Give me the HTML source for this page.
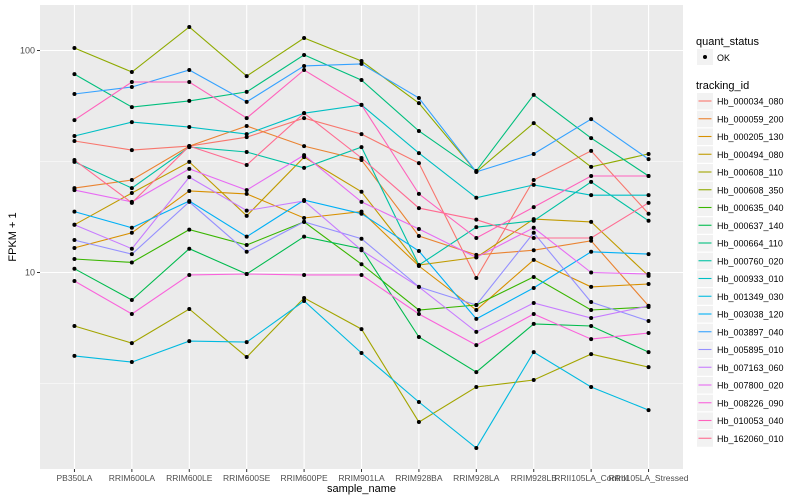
<!DOCTYPE html>
<html><head><meta charset="utf-8"><style>
body{margin:0;background:#fff;font-family:"Liberation Sans",sans-serif}
svg{display:block}
</style></head><body>
<svg id="chart" width="800" height="500" xmlns="http://www.w3.org/2000/svg"></svg>
<script>
const categories=["PB350LA","RRIM600LA","RRIM600LE","RRIM600SE","RRIM600PE","RRIM901LA","RRIM928BA","RRIM928LA","RRIM928LB","RRII105LA_Control","RRII105LA_Stressed"];
const seriesNames=["Hb_000034_080","Hb_000059_200","Hb_000205_130","Hb_000494_080","Hb_000608_110","Hb_000608_350","Hb_000635_040","Hb_000637_140","Hb_000664_110","Hb_000760_020","Hb_000933_010","Hb_001349_030","Hb_003038_120","Hb_003897_040","Hb_005895_010","Hb_007163_060","Hb_007800_020","Hb_008226_090","Hb_010053_040","Hb_162060_010"];
const seriesColors=["#F8766D","#EA8331","#D89000","#C09B00","#A3A500","#8FAA00","#39B600","#00BB4E","#00BF7D","#00C1A3","#00BFC4","#00BAE0","#00B0F6","#35A2FF","#9590FF","#C77CFF","#E76BF3","#FA62DB","#FF62BC","#FF6C91"];
const s000034_080=[39.1,35.6,37.1,40.7,49.6,42.0,31.1,9.45,26.1,35.3,18.4];
const s000059_200=[24.0,26.1,37.1,45.7,37.1,32.1,14.6,12.0,12.6,13.9,7.07];
const s000205_130=[12.9,15.1,23.3,22.6,17.6,18.8,10.7,6.78,11.4,8.61,8.88];
const s000494_080=[16.4,22.8,31.5,18.0,33.1,23.1,10.8,11.7,17.4,16.9,9.65];
const s000608_110=[5.74,4.81,6.85,4.16,7.68,5.56,2.12,3.05,3.28,4.29,3.75];
const s000608_350=[102.6,80.0,127.6,76.7,113.8,89.7,57.9,28.4,47.1,29.9,34.2];
const s000635_040=[11.5,11.1,15.6,13.3,16.9,10.9,6.78,7.14,9.55,6.78,6.99];
const s000637_140=[10.4,7.52,12.8,9.85,14.5,12.8,5.12,3.56,5.87,5.74,4.38];
const s000664_110=[78.3,55.6,59.3,65.1,95.5,73.6,43.4,28.7,63.1,40.3,27.2];
const s000760_020=[31.5,24.0,36.7,34.9,29.6,36.7,10.8,16.0,17.1,25.6,17.1];
const s000933_010=[41.2,47.6,45.2,42.0,52.2,56.9,34.5,21.7,24.8,22.3,22.3];
const s001349_030=[4.21,3.95,4.91,4.86,7.44,4.34,2.61,1.62,4.38,3.05,2.40];
const s003038_120=[18.8,15.9,21.0,14.5,21.2,18.4,12.5,6.18,8.52,12.4,12.1];
const s003897_040=[63.7,68.5,81.7,58.7,85.2,87.0,61.1,28.4,34.2,49.1,32.4];
const s005895_010=[14.0,12.1,20.8,12.4,16.9,14.2,8.61,7.14,15.1,7.36,6.05];
const s007163_060=[16.4,12.8,26.9,19.0,21.0,12.6,8.61,5.40,7.29,6.24,7.07];
const s007800_020=[23.5,20.8,29.3,23.5,33.8,20.8,15.7,11.7,15.9,10.0,9.85];
const s008226_090=[9.16,6.50,9.75,9.85,9.75,9.75,6.50,4.71,6.50,5.01,5.34];
const s010053_040=[48.6,72.1,72.1,49.6,81.7,56.9,22.6,14.3,19.7,27.2,27.2];
const s162060_010=[32.1,20.6,37.1,30.5,52.2,32.8,19.5,17.3,14.3,14.3,20.6];
const seriesValues=[s000034_080,s000059_200,s000205_130,s000494_080,s000608_110,s000608_350,s000635_040,s000637_140,s000664_110,s000760_020,s000933_010,s001349_030,s003038_120,s003897_040,s005895_010,s007163_060,s007800_020,s008226_090,s010053_040,s162060_010];
const yTicks=[10,100];
const yTickLabels=["10","100"];

const NS="http://www.w3.org/2000/svg";
const svg=document.getElementById('chart');
const P={l:40,r:683,t:5,b:469};
const step=(P.r-P.l)/(categories.length-1+1.2);
function xs(i){return P.l+step*0.6+i*step;}
function ys(v){return 272.5-(Math.log10(v)-1)*222;}
function mk(tag,attrs){const e=document.createElementNS(NS,tag);for(const k in attrs)e.setAttribute(k,attrs[k]);svg.appendChild(e);return e;}

const panel=mk('rect',{x:P.l,y:P.t,width:P.r-P.l,height:P.b-P.t,fill:'#EBEBEB'});


// minor gridlines (log midpoints)
[0.5,1.5,2.5].forEach(m=>{const y=ys(Math.pow(10,m));if(y>P.t&&y<P.b){const g=mk('line',{x1:P.l,x2:P.r,y1:y,y2:y,stroke:'#fff','stroke-width':0.5});

}});
yTicks.forEach((t,i)=>{const y=ys(t);
const g=mk('line',{x1:P.l,x2:P.r,y1:y,y2:y,stroke:'#fff','stroke-width':1.1});


const tk=mk('line',{x1:P.l-3,x2:P.l,y1:y,y2:y,stroke:'#333','stroke-width':1});


const tl=mk('text',{x:P.l-5,y:y+3,'text-anchor':'end','font-size':9,fill:'#4D4D4D'});tl.textContent=yTickLabels[i];

});
categories.forEach((c,i)=>{const x=xs(i);
const g=mk('line',{x1:x,x2:x,y1:P.t,y2:P.b,stroke:'#fff','stroke-width':1.1});


const tk=mk('line',{x1:x,x2:x,y1:P.b,y2:P.b+3,stroke:'#333','stroke-width':1});


const tl=mk('text',{x:x,y:P.b+12,'text-anchor':'middle','font-size':8.5,fill:'#4D4D4D'});tl.textContent=c;

});
seriesValues.forEach((vals,si)=>{
const pts=vals.map((v,i)=>xs(i).toFixed(1)+','+ys(v).toFixed(1)).join(' ');
const pl=mk('polyline',{points:pts,fill:'none',stroke:seriesColors[si],'stroke-width':1.1});

});
seriesValues.forEach((vals,si)=>{vals.forEach((v,i)=>{
const c=mk('circle',{cx:xs(i),cy:ys(v),r:2,fill:'#000'});

});});
const xt=mk('text',{x:(P.l+P.r)/2,y:492,'text-anchor':'middle','font-size':11,fill:'#000'});xt.textContent='sample_name';


const yt=mk('text',{x:0,y:0,'text-anchor':'middle','font-size':11,fill:'#000',transform:'translate(16,'+((P.t+P.b)/2)+') rotate(-90)'});yt.textContent='FPKM + 1';


// legend
const lt=mk('text',{x:696,y:45,'font-size':11,fill:'#000'});lt.textContent='quant_status';


const kb=mk('rect',{x:697,y:49,width:16,height:16,fill:'#F2F2F2'});


const kd=mk('circle',{cx:705,cy:57,r:2,fill:'#000'});


const kt=mk('text',{x:717,y:61,'font-size':9,fill:'#000'});kt.textContent='OK';


const lt2=mk('text',{x:696,y:89,'font-size':11,fill:'#000'});lt2.textContent='tracking_id';


seriesNames.forEach((n,i)=>{const y=101+i*17.75;
const b=mk('rect',{x:697,y:y-8,width:16,height:16.5,fill:'#F2F2F2'});


const l=mk('line',{x1:698.5,x2:711.5,y1:y,y2:y,stroke:seriesColors[i],'stroke-width':1.1});


const t=mk('text',{x:717,y:y+3.5,'font-size':9,fill:'#000'});t.textContent=n;

});
</script>
</body></html>
